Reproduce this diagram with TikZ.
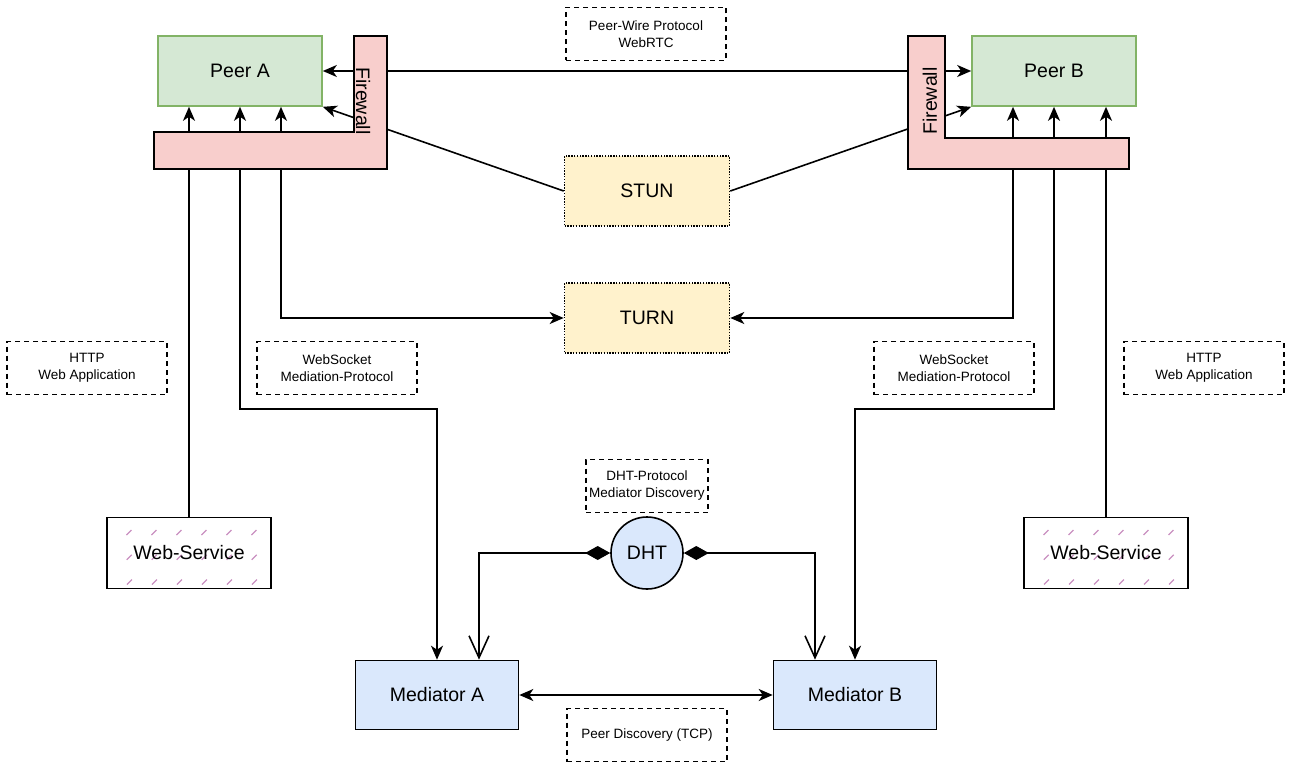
\documentclass[tikz,border=0pt]{standalone}
\usepackage{fontspec}
\setmainfont{Liberation Sans}
\usetikzlibrary{arrows.meta, positioning, calc}

\definecolor{peerfill}{HTML}{D5E8D4}
\definecolor{peerline}{HTML}{82B366}
\definecolor{wallfill}{HTML}{F8CECC}
\definecolor{relayfill}{HTML}{FFF2CC}
\definecolor{medfill}{HTML}{DAE8FC}
\definecolor{svchatch}{HTML}{C98FC0}

\begin{document}
\begin{tikzpicture}[
		x=1pt, y=-1pt,
		line width=1.6pt,
		big/.style={font=\fontsize{19.5}{23}\selectfont},
		peer/.style={big, draw=peerline, fill=peerfill, minimum width=164pt, minimum height=70pt, inner sep=0pt},
		relay/.style={big, draw, fill=relayfill, dash pattern=on 1.4pt off 1.4pt, minimum width=165pt, minimum height=70pt, inner sep=0pt},
		med/.style={big, draw=black, fill=medfill, minimum width=163pt, minimum height=69pt, inner sep=0pt},
		svc/.style={big, draw, minimum width=164pt, minimum height=71pt, inner sep=0pt,
			path picture={\foreach \k in {0,...,12} \draw[svchatch, line width=1.1pt, dash pattern=on 7pt off 28pt] ($(path picture bounding box.south west)+(\k*25-80,-4)$) -- ++(80,-80);}},
		lbl/.style={draw, dash pattern=on 5pt off 4pt, line width=1.3pt, align=center, font=\fontsize{13.5}{17}\selectfont, minimum width=160pt, minimum height=53pt, inner sep=0pt},
		wall/.style={draw, fill=wallfill},
		>={Stealth[length=14pt,width=12pt,inset=4pt]}
		]
		\useasboundingbox (0,0) rectangle (1289,765);

		% boxes
		\node[peer] (peerA) at (240,71) {Peer A};
		\node[peer] (peerB) at (1054,71) {Peer B};
		\node[relay] (stun) at (647,191) {STUN};
		\node[relay] (turn) at (647,318) {TURN};
		\node[med] (medA) at (437,695) {Mediator A};
		\node[med] (medB) at (855,695) {Mediator B};
		\node[svc] (svcA) at (189,553) {Web-Service};
		\node[svc] (svcB) at (1106,553) {Web-Service};
		\node[big, draw, fill=medfill, circle, minimum size=72pt, inner sep=0pt] (dht) at (647,553) {DHT};

		% protocol labels
		\node[lbl] (lblWire) at (646,34) {Peer-Wire Protocol\\WebRTC};
		\node[lbl] (lblHttpA) at (87,368) {HTTP\\Web Application};
		\node[lbl] (lblSockA) at (337,368) {WebSocket\\Mediation-Protocol};
		\node[lbl] (lblSockB) at (954,368) {WebSocket\\Mediation-Protocol};
		\node[lbl] (lblHttpB) at (1204,368) {HTTP\\Web Application};
		\node[lbl, minimum width=122pt] (lblDht) at (647,486) {DHT-Protocol\\Mediator Discovery};
		\node[lbl] (lblDisc) at (647,735) {Peer Discovery (TCP)};

		% connections
		\draw[<->] (peerA.east) -- (peerB.west);
		\draw[->] (stun.west) -- (peerA.south east);
		\draw[->] (stun.east) -- (peerB.south west);
		\draw[->] (svcA.north) -- (svcA.north |- peerA.south);
		\draw[<->] (peerA.south) -- ++(0,302) -| (medA.north);
		\draw[<->] ([xshift=41pt]peerA.south) |- (turn.west);
		\draw[<->] ([xshift=-41pt]peerB.south) |- (turn.east);
		\draw[<->] (peerB.south) -- ++(0,302) -| (medB.north);
		\draw[->] (svcB.north) -- (svcB.north |- peerB.south);
		\draw[<->] (medA) -- (medB);
		\draw[{Diamond[length=25pt,width=14pt]}-{Straight Barb[length=22pt,width=20pt]}] (dht.west) -| ([xshift=42pt]medA.north);
		\draw[{Diamond[length=25pt,width=14pt]}-{Straight Barb[length=22pt,width=20pt]}] (dht.east) -| ([xshift=-40pt]medB.north);

		% firewalls on top
		\draw[wall] (154,132) -- (354,132) -- (354,36) -- (387,36) -- (387,169) -- (154,169) -- cycle;
		\node[big, rotate=-90] (wallA) at (363,101) {Firewall};
		\draw[wall] (908,36) -- (945,36) -- (945,138) -- (1129,138) -- (1129,169) -- (908,169) -- cycle;
		\node[big, rotate=90] (wallB) at (930,101) {Firewall};
	\end{tikzpicture}
\end{document}
